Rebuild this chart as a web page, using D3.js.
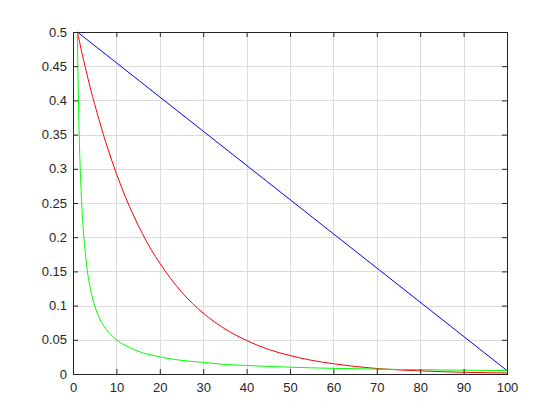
<!DOCTYPE html>
<html>
<head>
<meta charset="utf-8">
<script src="https://cdn.jsdelivr.net/npm/d3@7"></script>
<style>
  body { margin: 0; background: #fff; }
  svg { display: block; }
</style>
</head>
<body>
<script>
// values
const xs = [1, 1.25, 1.5, 1.75, 2, 3, 4, 5, 6, 7, 8, 9, 10, 12, 14, 16, 18, 20, 25, 30, 35, 40, 45, 50, 55, 60, 65, 70, 75, 80, 85, 90, 95, 100];
const redVals = [0.5, 0.493, 0.486, 0.478, 0.471, 0.444, 0.418, 0.394, 0.372, 0.350, 0.330, 0.311, 0.293, 0.260, 0.231, 0.205, 0.182, 0.162, 0.120, 0.089, 0.066, 0.049, 0.036, 0.027, 0.020, 0.015, 0.011, 0.008, 0.006, 0.0046, 0.0034, 0.0025, 0.0019, 0.0014];
const greenVals = [0.5, 0.4, 0.333, 0.286, 0.25, 0.167, 0.125, 0.1, 0.083, 0.071, 0.0625, 0.056, 0.05, 0.042, 0.036, 0.031, 0.028, 0.025, 0.02, 0.017, 0.014, 0.0125, 0.011, 0.01, 0.009, 0.0083, 0.0077, 0.0071, 0.0067, 0.0063, 0.0059, 0.0056, 0.0053, 0.005];
const blueXs = [1, 100];
const blueVals = [0.5, 0.005];
const xTicks = [0, 10, 20, 30, 40, 50, 60, 70, 80, 90, 100];
const yTicks = [0, 0.05, 0.1, 0.15, 0.2, 0.25, 0.3, 0.35, 0.4, 0.45, 0.5];

const WIDTH = 560, HEIGHT = 420;
const plotL = 73, plotR = 507, plotT = 32, plotB = 374;

const svg = d3.select('body').append('svg')
  .attr('width', WIDTH)
  .attr('height', HEIGHT);

const x = d3.scaleLinear().domain([0, 100]).range([plotL, plotR]);
const y = d3.scaleLinear().domain([0, 0.5]).range([plotB, plotT]);

// grid
const grid = svg.append('g').attr('class', 'grid');
grid.selectAll('line.gx').data(xTicks).enter().append('line')
  .attr('x1', d => Math.round(x(d)) + 0.5).attr('x2', d => Math.round(x(d)) + 0.5)
  .attr('y1', plotT).attr('y2', plotB)
  .attr('stroke', '#dcdcdc').attr('stroke-width', 1);
grid.selectAll('line.gy').data(yTicks).enter().append('line')
  .attr('x1', plotL).attr('x2', plotR)
  .attr('y1', d => Math.round(y(d)) + 0.5).attr('y2', d => Math.round(y(d)) + 0.5)
  .attr('stroke', '#dcdcdc').attr('stroke-width', 1);

// series
const lineOf = (xv, yv) => d3.line()
  .x((d, i) => x(xv[i]))
  .y(d => y(d))
  .curve(d3.curveMonotoneX)(yv);

const series = [
  { xv: blueXs, yv: blueVals, color: '#0000ff' },
  { xv: xs, yv: redVals, color: '#ff0000' },
  { xv: xs, yv: greenVals, color: '#00ff00' }
];
svg.append('g').selectAll('path').data(series).enter().append('path')
  .attr('d', d => lineOf(d.xv, d.yv))
  .attr('fill', 'none')
  .attr('stroke', d => d.color)
  .attr('stroke-width', 1);

// axes (box with inward ticks)
const tk = 5;
const axisColor = '#262626';
const axisFont = '"Liberation Sans", Arial, Helvetica, sans-serif';

const bottomAxis = d3.axisBottom(x).tickValues(xTicks).tickSize(-tk).tickPadding(9).tickFormat(d3.format('d'));
const topAxis = d3.axisTop(x).tickValues(xTicks).tickSize(-tk).tickFormat('');
const leftAxis = d3.axisLeft(y).tickValues(yTicks).tickSize(-tk).tickPadding(6).tickFormat(d => String(+d.toFixed(2)));
const rightAxis = d3.axisRight(y).tickValues(yTicks).tickSize(-tk).tickFormat('');

const styleAxis = g => {
  g.selectAll('path, line').attr('stroke', axisColor);
  g.selectAll('text').attr('fill', axisColor).attr('font-size', 13).attr('font-family', axisFont);
};

svg.append('g').attr('transform', `translate(0,${plotB})`).call(bottomAxis).call(styleAxis)
  .call(g => g.select('.domain').attr('d', `M${plotL},0.5H${plotR}`));
svg.append('g').attr('transform', `translate(0,${plotT})`).call(topAxis).call(styleAxis)
  .call(g => g.select('.domain').attr('d', `M${plotL},0.5H${plotR}`));
svg.append('g').attr('transform', `translate(${plotL},0)`).call(leftAxis).call(styleAxis)
  .call(g => g.select('.domain').attr('d', `M0.5,${plotT}V${plotB + 1}`));
svg.append('g').attr('transform', `translate(${plotR},0)`).call(rightAxis).call(styleAxis)
  .call(g => g.select('.domain').attr('d', `M0.5,${plotT}V${plotB + 1}`));
</script>
</body>
</html>
